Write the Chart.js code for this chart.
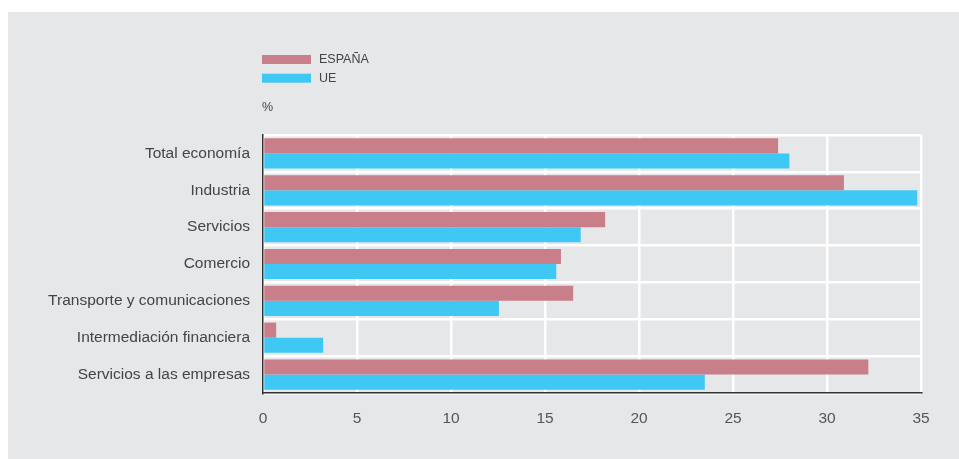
<!DOCTYPE html>
<html lang="es">
<head>
<meta charset="utf-8">
<title>España vs UE</title>
<script src="https://cdn.jsdelivr.net/npm/chart.js@4"></script>
<style>
    body { margin: 0; background: #ffffff; }
    #fondo { position: absolute; left: 8px; top: 12px; width: 951px; height: 447px; background: #e6e7e8; }
    #grafico { position: absolute; left: 0; top: 0; }
</style>
</head>
<body>
<div id="fondo"></div>
<canvas id="grafico" width="959" height="459"></canvas>
<script>
// Datos
const categorias = [
    'Total economía',
    'Industria',
    'Servicios',
    'Comercio',
    'Transporte y comunicaciones',
    'Intermediación financiera',
    'Servicios a las empresas'
];
const valoresEspana = [27.4, 30.9, 18.2, 15.85, 16.5, 0.7, 32.2];
const valoresUE = [28.0, 34.8, 16.9, 15.6, 12.55, 3.2, 23.5];
const nombresSeries = ['ESPAÑA', 'UE'];
const ticksX = [0, 5, 10, 15, 20, 25, 30, 35];

const colorEspana = 'rgb(201, 127, 138)';
const colorUE = 'rgb(64, 200, 244)';
const fuente = '"Liberation Sans", Arial, sans-serif';

// Leyenda y unidad dibujadas a mano, arriba a la izquierda del área
const leyendaPropia = {
    id: 'leyendaPropia',
    afterDraw(chart) {
        const ctx = chart.ctx;
        const x0 = chart.chartArea.left - 1;
        ctx.save();
        ctx.font = '12.5px ' + fuente;
        ctx.textBaseline = 'middle';
        chart.data.datasets.forEach((ds, i) => {
            const y = 55 + i * 18.7;
            ctx.fillStyle = ds.backgroundColor;
            ctx.fillRect(x0, y, 49, 9);
            ctx.fillStyle = '#444';
            ctx.fillText(ds.label, x0 + 57, y + 5);
        });
        ctx.fillText('%', x0, 108);
        ctx.restore();
    }
};

function generarGrafico() {
    const ctx = document.getElementById('grafico').getContext('2d');

    const data = {
        labels: categorias,
        datasets: [{
            label: nombresSeries[0],
            data: valoresEspana,
            backgroundColor: colorEspana,
            borderWidth: 0
        }, {
            label: nombresSeries[1],
            data: valoresUE,
            backgroundColor: colorUE,
            borderWidth: 0
        }]
    };

    const config = {
        type: 'bar',
        data: data,
        options: {
            indexAxis: 'y',
            responsive: false,
            animation: false,
            devicePixelRatio: 1,
            layout: {
                padding: { left: 0, top: 135, right: 38, bottom: 0 }
            },
            datasets: {
                bar: {
                    categoryPercentage: 0.82,
                    barPercentage: 1
                }
            },
            scales: {
                x: {
                    min: 0,
                    max: 35,
                    afterFit: scale => { scale.height = 66; },
                    afterBuildTicks: scale => {
                        scale.ticks = ticksX.map(v => ({ value: v }));
                    },
                    grid: {
                        color: '#ffffff',
                        lineWidth: 2.5,
                        drawTicks: false
                    },
                    border: { color: '#333333', width: 1.5 },
                    ticks: {
                        padding: 16,
                        color: '#555555',
                        font: { family: fuente, size: 15.5 }
                    }
                },
                y: {
                    afterFit: scale => { scale.width = 263; },
                    grid: {
                        color: '#ffffff',
                        lineWidth: 2.5,
                        drawTicks: false
                    },
                    border: { color: '#333333', width: 1.5 },
                    ticks: {
                        padding: 13,
                        color: '#444444',
                        font: { family: fuente, size: 15.5 }
                    }
                }
            },
            plugins: {
                legend: { display: false },
                tooltip: { enabled: false }
            }
        },
        plugins: [leyendaPropia]
    };

    new Chart(ctx, config);
}

if (typeof Chart !== 'undefined') {
    generarGrafico();
} else {
    console.error('Chart.js no está cargado.');
}
</script>
</body>
</html>
